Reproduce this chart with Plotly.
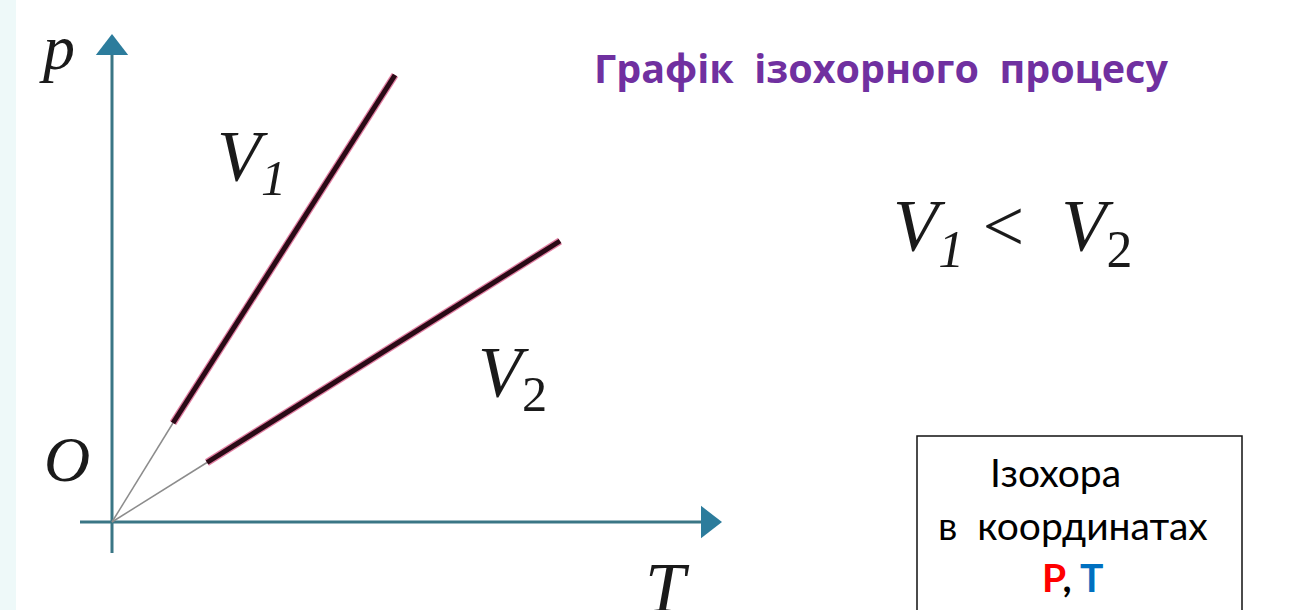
import plotly.graph_objects as go

# isochores in (T, p) units: origin, start of the bold segment, end of line
t_v1 = [0.0, 1.22, 5.66]
p_v1 = [0.0, 1.98, 8.94]
t_v2 = [0.0, 1.90, 8.96]
p_v2 = [0.0, 1.19, 5.62]

# axis extents (T axis, p axis), arrow tips drawn as markers
t_axis = [-0.64, 11.92]
p_axis = [-0.62, 9.48]

title_text = "Графік\u00a0 ізохорного\u00a0 процесу"
relation_text = "<i>V</i><sub><i>1</i></sub>\u00a0&lt;\u00a0 <i>V</i><sub>2</sub>"
box_lines = [
    "Ізохора\u00a0",
    "в\u00a0 координатах",
    "<b><span style='color:#FF0000'>P</span>, <span style='color:#0070C0'>T</span></b>",
]

AXIS = "#3a7685"
ARROW = "#2c7c9c"
SERIF = "Liberation Serif"
SANS = "Lato"
W, H = 1302, 610

fig = go.Figure()

# axes
fig.add_trace(go.Scatter(x=t_axis, y=[0, 0], mode="lines",
                         line=dict(color=AXIS, width=3), hoverinfo="skip"))
fig.add_trace(go.Scatter(x=[0, 0], y=p_axis, mode="lines",
                         line=dict(color=AXIS, width=3), hoverinfo="skip"))
fig.add_trace(go.Scatter(x=[t_axis[1]], y=[0], mode="markers",
                         marker=dict(symbol="triangle-right", size=28, color=ARROW),
                         hoverinfo="skip"))
fig.add_trace(go.Scatter(x=[0], y=[p_axis[1]], mode="markers",
                         marker=dict(symbol="triangle-up", size=28, color=ARROW),
                         hoverinfo="skip"))

# isochores: thin grey near origin, bold dark-red further out
for ts, ps in [(t_v1, p_v1), (t_v2, p_v2)]:
    fig.add_trace(go.Scatter(x=ts[:2], y=ps[:2], mode="lines",
                             line=dict(color="#8c8c8c", width=1.5), hoverinfo="skip"))
    fig.add_trace(go.Scatter(x=ts[1:], y=ps[1:], mode="lines",
                             line=dict(color="rgba(205,40,100,0.6)", width=7.5),
                             hoverinfo="skip"))
    fig.add_trace(go.Scatter(x=ts[1:], y=ps[1:], mode="lines",
                             line=dict(color="#2a0a16", width=5), hoverinfo="skip"))

serif_labels = [
    ("<i>p</i>", -1.1, 9.49, 64),
    ("<i>O</i>", -0.9, 1.26, 64),
    ("<i>T</i>", 11.1, -1.32, 72),
    ("<i>V</i><sub><i>1</i></sub>", 2.78, 7.22, 72),
    ("<i>V</i><sub>2</sub>", 8.0, 2.9, 72),
]
for txt, x, y, size in serif_labels:
    fig.add_annotation(x=x, y=y, xref="x", yref="y", text=txt, showarrow=False,
                       font=dict(family=SERIF, size=size, color="#1a1a1a"))


def paper_text(txt, cx, cy, font):
    fig.add_annotation(x=cx / W, y=1 - cy / H, xref="paper", yref="paper",
                       xanchor="center", yanchor="middle",
                       text=txt, showarrow=False, font=font)


paper_text(f"<b>{title_text}</b>", 881, 68,
           dict(family="Open Sans", size=39.5, color="#7030A0"))
paper_text(relation_text, 1012, 232,
           dict(family=SERIF, size=74, color="#1a1a1a"))

# faint tint at the left edge
fig.add_shape(type="rect", xref="paper", yref="paper", x0=0, x1=16 / W, y0=0, y1=1,
              line=dict(width=0), fillcolor="#eef9f9", layer="below")

# framed caption in the lower right
fig.add_shape(type="rect", xref="paper", yref="paper",
              x0=917 / W, x1=1242 / W, y0=-0.05, y1=1 - 436 / H,
              line=dict(color="#111111", width=1.5), fillcolor="white")
for txt, cx, cy in zip(box_lines, [1060, 1073, 1072], [472, 525, 577]):
    paper_text(txt, cx, cy, dict(family=SANS, size=39, color="#000000"))

fig.update_layout(
    width=W, height=H,
    margin=dict(l=0, r=0, t=0, b=0),
    paper_bgcolor="white", plot_bgcolor="white",
    showlegend=False,
    xaxis=dict(range=[-2.24, 23.8], visible=False, fixedrange=True),
    yaxis=dict(range=[-1.76, 10.44], visible=False, fixedrange=True),
)

fig.write_html("out.html", config={"displayModeBar": False},
               post_script="document.body.style.margin='0';")
